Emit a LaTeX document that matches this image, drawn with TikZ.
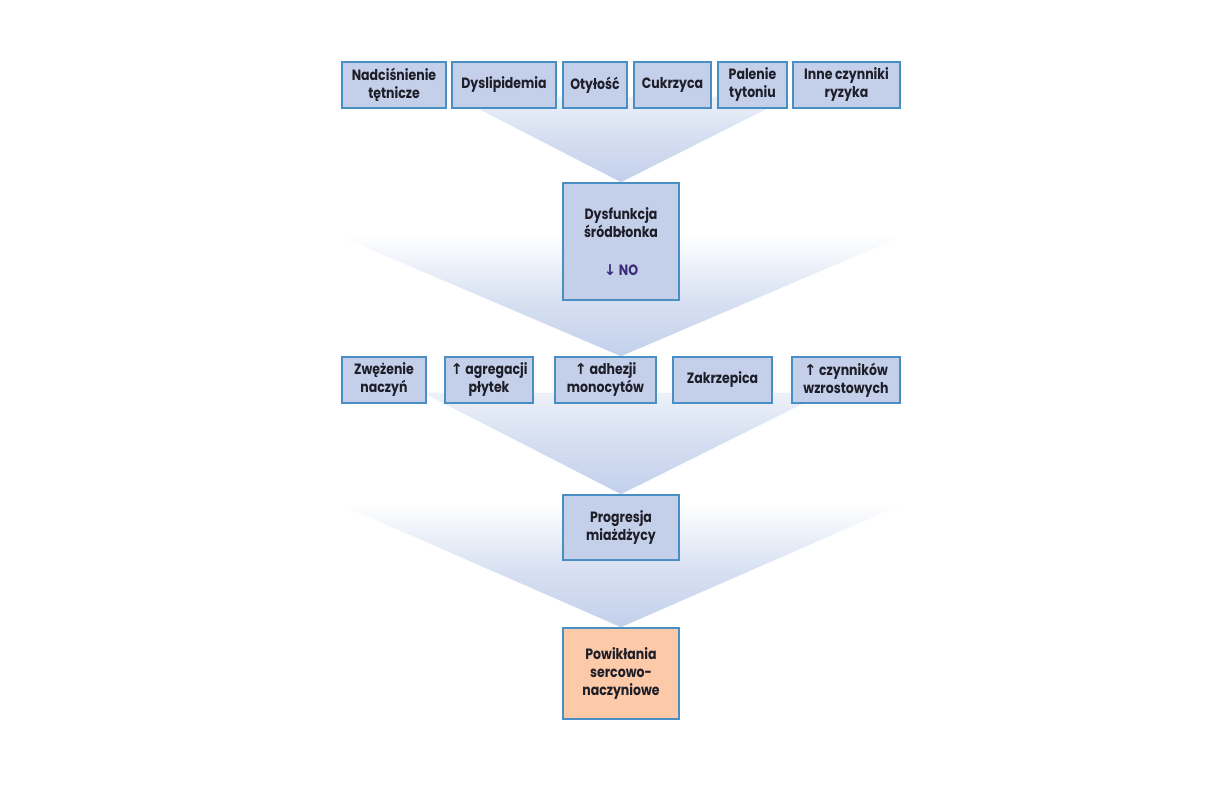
\documentclass[tikz,border=0pt]{standalone}
\usepackage{fontspec}
\setmainfont{Poppins}[FakeStretch=0.84]
\newfontfamily\arrowfont{DejaVu Sans}
\usepackage{tikz}
\usetikzlibrary{positioning}

\definecolor{boxfill}{HTML}{C4D0EA}
\definecolor{boxline}{HTML}{4A8FC4}
\definecolor{outfill}{HTML}{FCC9A9}
\definecolor{funnel}{HTML}{C2D0EB}
\definecolor{nocolor}{HTML}{3D2A78}
\definecolor{textcol}{HTML}{1E1E28}

% the path covers 25bp..75bp of the shading
\pgfdeclareverticalshading{funnelshade}{100bp}{color(0bp)=(funnel); color(25bp)=(funnel); color(48bp)=(funnel!65!white); color(75bp)=(white); color(100bp)=(white)}
\pgfdeclareverticalshading{funnelshadetop}{100bp}{color(0bp)=(funnel); color(25bp)=(funnel); color(50bp)=(funnel!70!white); color(75bp)=(funnel!30!white); color(100bp)=(funnel!30!white)}

\newcommand{\up}{{\arrowfont\char"2191}}
\newcommand{\down}{{\arrowfont\char"2193}}

\begin{document}
\begin{tikzpicture}[
    x=0.25mm, y=-0.25mm,
    factor/.style={draw=boxline, line width=0.35mm, fill=boxfill, align=center, inner sep=1pt,
                   text=textcol, minimum height=11.5mm, font=\fontsize{10.6}{12.8}\selectfont\bfseries},
    stage/.style={factor, minimum width=29mm},
    result/.style={stage, fill=outfill},
    funnelfill/.style={shading=#1, draw=white, line width=0.3mm},
    funnelfill/.default=funnelshade
]
\useasboundingbox (0,0) rectangle (1215,810);

% apex points of the funnels
\coordinate (dystop) at (621,183);
\coordinate (midtop) at (621,357);
\coordinate (progtop) at (621,495);
\coordinate (outtop) at (621,628);

% funnels
\path[funnelfill=funnelshadetop] (452,96) -- (794,96) -- (dystop) -- cycle;
\path[funnelfill] (335,235) -- (907,235) -- (midtop) -- cycle;
\path[funnelfill=funnelshadetop] (420,392) -- (828,392) -- (progtop) -- cycle;
\path[funnelfill] (335,503) -- (907,503) -- (outtop) -- cycle;

% risk factors
\node[factor, minimum width=26mm] (rf1) at (394,85) {Nadciśnienie\\tętnicze};
\node[factor, minimum width=26mm] (rf2) at (504,85) {Dyslipidemia};
\node[factor, minimum width=16mm] (rf3) at (595,85) {Otyłość};
\node[factor, minimum width=19.25mm] (rf4) at (672.5,85) {Cukrzyca};
\node[factor, minimum width=17.25mm] (rf5) at (752.5,85) {Palenie\\tytoniu};
\node[factor, minimum width=26.75mm] (rf6) at (846.5,85) {Inne czynniki\\ryzyka};

% endothelium
\node[stage, minimum height=29.25mm] (dys) at (621,241.5) {Dysfunkcja\\śródbłonka\\[5mm]{\color{nocolor}\down\,NO}};

% effects
\node[factor, minimum width=21mm] (ef1) at (384,380) {Zwężenie\\naczyń};
\node[factor, minimum width=22mm] (ef2) at (489,380) {\up\,agregacji\\płytek};
\node[factor, minimum width=25.25mm] (ef3) at (605.5,380) {\up\,adhezji\\monocytów};
\node[factor, minimum width=24.75mm] (ef4) at (722.5,380) {Zakrzepica};
\node[factor, minimum width=27mm] (ef5) at (846,380) {\up\,czynników\\wzrostowych};

\node[stage, minimum height=16.25mm] (prog) at (621,527.5) {Progresja\\miażdżycy};
\node[result, minimum height=22.75mm] (out) at (621,673.5) {Powikłania\\sercowo-\\naczyniowe};
\end{tikzpicture}
\end{document}
